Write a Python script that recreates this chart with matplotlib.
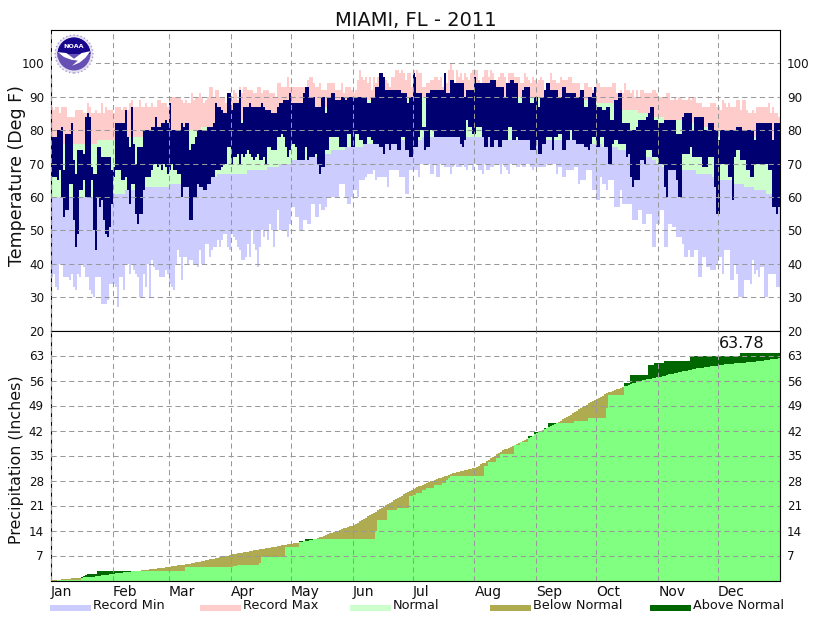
import numpy as np
import matplotlib
matplotlib.use('Agg')
import matplotlib.pyplot as plt
from matplotlib.patches import Circle, Wedge, Polygon, Rectangle

# daily values, one row per month
rec_max = [
    87,86,87,87,85,87,87,87,84,84,84,84,86,86,86,86,85,85,88,87,85,85,86,85,85,88,85,87,86,86,86,
    85,87,87,87,86,87,87,86,88,89,87,87,87,89,87,87,88,87,87,88,87,87,89,89,88,88,88,87,
    90,90,90,90,90,90,89,88,89,88,88,91,89,90,90,91,90,88,89,90,93,93,90,92,92,90,90,90,88,90,91,
    89,92,91,89,93,91,93,93,92,92,92,91,91,93,93,91,92,92,92,91,91,91,90,94,94,93,93,93,96,93,
    93,93,93,93,93,93,93,93,95,96,96,94,93,93,94,92,92,92,94,94,94,94,92,92,92,94,91,93,93,93,92,
    91,92,95,98,96,95,96,94,96,92,96,94,96,97,97,95,95,94,93,96,96,98,98,97,98,97,95,97,97,93,
    98,96,98,97,97,93,93,94,94,95,95,96,96,95,96,93,96,94,98,100,98,94,98,96,97,95,97,96,95,97,98,
    98,98,95,94,96,98,98,96,98,97,95,95,96,97,97,96,94,97,97,97,96,96,96,94,94,97,96,95,94,96,95,
    94,95,96,95,90,92,94,97,95,95,94,94,96,95,95,95,96,96,94,94,94,94,92,91,94,94,93,93,92,93,
    95,94,93,93,93,93,93,93,94,94,91,91,92,91,94,92,92,91,92,90,92,90,92,92,91,91,91,91,92,92,91,
    90,90,90,90,91,91,89,89,90,89,90,90,89,89,89,90,89,90,90,88,88,88,87,87,87,87,88,88,88,87,
    87,86,89,88,87,88,87,87,87,89,89,86,89,89,86,85,85,86,85,87,87,87,87,87,87,88,85,87,85,85,84,
]
rec_min = [
    36,37,33,32,40,40,36,36,36,35,37,33,32,37,36,40,39,36,36,32,31,30,36,36,36,28,28,28,29,34,34,
    34,33,27,36,36,32,40,40,37,40,38,37,36,30,30,37,33,40,30,41,39,38,38,36,36,36,38,37,
    34,33,32,40,44,42,35,42,42,40,41,41,40,40,39,44,40,40,46,46,42,44,45,45,47,45,47,49,49,45,44,
    49,48,47,45,44,41,41,42,46,42,50,46,44,39,45,50,48,50,47,52,50,45,50,56,50,50,50,50,48,52,
    57,57,54,54,50,50,53,53,52,52,58,58,54,54,58,56,56,57,60,60,60,60,60,60,64,64,64,60,58,58,60,
    62,62,60,65,65,65,66,67,67,67,68,65,66,66,66,66,66,63,68,68,68,68,68,66,66,66,61,61,68,68,
    68,68,68,66,70,70,70,70,70,67,67,70,66,66,70,70,69,69,69,67,69,70,69,69,69,70,69,68,70,70,68,
    70,70,68,68,67,70,68,68,69,69,70,70,70,67,70,69,68,67,70,70,70,69,69,70,69,69,70,70,69,68,69,
    69,69,69,69,69,70,70,70,70,70,67,69,69,66,66,68,68,68,68,69,69,64,65,65,65,68,68,68,62,62,
    59,59,66,64,64,62,65,65,65,57,57,57,62,58,58,58,58,58,53,53,53,56,56,52,52,55,55,55,45,45,52,
    52,56,56,45,45,52,52,51,51,48,48,48,46,42,42,44,42,42,44,44,36,36,42,42,39,39,38,38,38,40,
    42,42,37,44,44,44,35,35,40,37,30,30,30,35,35,35,34,41,37,38,36,39,39,30,30,37,37,37,37,33,33,
]
norm_hi = [
    76,76,76,76,76,76,76,76,76,76,76,76,76,76,76,76,76,76,76,76,76,76,76,77,77,77,77,77,77,77,77,
    77,77,77,77,77,77,77,78,78,78,78,78,78,78,78,78,78,78,78,78,79,79,79,79,79,79,79,79,
    79,79,79,79,79,80,80,80,80,80,80,80,80,80,80,80,81,81,81,81,81,81,81,81,81,81,82,82,82,82,82,
    82,82,82,82,82,83,83,83,83,83,83,83,83,83,84,84,84,84,84,84,84,84,85,85,85,85,85,85,85,85,
    85,85,85,86,86,86,86,86,86,86,86,86,87,87,87,87,87,87,87,87,87,87,88,88,88,88,88,88,88,88,88,
    88,88,88,88,89,89,89,89,89,89,89,89,89,89,89,89,89,89,89,89,89,89,90,90,90,90,90,90,90,90,
    90,90,90,90,90,90,90,90,90,90,90,90,90,90,90,90,90,90,90,90,90,90,90,90,90,90,90,90,90,90,90,
    90,90,90,90,90,90,90,90,90,90,90,90,90,90,90,90,90,90,90,90,90,90,90,90,90,90,90,90,90,90,90,
    90,90,90,90,90,90,90,90,90,90,90,90,90,89,89,89,89,89,89,89,89,89,89,89,89,89,89,89,88,88,
    88,88,88,88,88,88,88,88,88,87,87,87,87,86,86,86,86,86,86,86,86,85,85,85,85,85,85,85,85,84,84,
    84,84,84,83,83,83,83,83,83,83,83,83,82,82,82,82,82,82,82,81,81,81,81,81,81,81,81,80,80,80,
    80,80,80,80,80,79,79,79,79,79,79,79,78,78,78,78,78,78,78,78,78,78,78,77,77,77,77,77,77,77,77,
]
norm_lo = [
    60,60,60,60,60,60,60,60,60,60,60,60,60,60,60,60,60,60,60,60,60,60,60,60,60,60,60,60,60,60,60,
    61,61,61,61,61,61,62,62,62,62,62,62,62,62,62,63,63,63,63,63,63,63,63,63,63,63,63,63,
    64,64,64,64,64,64,64,64,64,64,65,65,65,65,65,66,66,66,66,66,66,66,66,66,67,67,67,67,67,67,67,
    67,67,67,67,67,67,67,67,68,68,68,68,68,68,68,68,68,68,69,69,69,69,69,69,70,70,70,70,70,70,
    71,71,71,71,71,71,71,71,72,72,72,72,72,72,72,72,73,73,73,73,74,74,74,74,74,74,74,75,75,75,75,
    75,75,75,75,75,76,76,76,76,76,76,76,76,76,76,76,76,76,76,76,76,76,77,77,77,77,77,77,77,77,
    77,77,77,77,77,78,78,78,78,78,78,78,78,78,78,78,78,78,78,78,78,78,78,78,78,78,78,78,78,78,78,
    78,78,78,78,78,78,78,78,78,78,78,78,78,78,78,77,77,77,77,77,77,77,77,77,77,77,77,77,77,77,77,
    77,77,77,77,77,77,77,77,77,77,77,77,77,77,77,77,77,77,77,77,77,76,76,76,76,76,76,76,76,76,
    76,76,76,75,75,75,75,75,75,75,75,74,74,74,74,74,74,74,74,74,74,74,73,73,73,72,72,72,71,71,70,
    70,70,69,69,69,69,69,69,69,69,69,68,68,68,68,68,68,68,68,67,67,67,67,67,67,67,67,66,66,66,
    65,65,65,65,65,65,65,64,64,64,64,64,64,63,63,63,63,63,62,62,62,62,62,62,61,61,61,61,61,61,61,
]
obs_hi = [
    78,78,78,80,80,81,68,79,79,79,82,71,67,74,74,74,73,84,85,84,69,67,67,75,75,72,72,72,72,72,68,
    66,82,82,82,82,82,86,78,75,87,76,70,75,75,75,80,80,80,80,81,81,84,81,81,82,82,83,82,
    88,80,80,80,80,80,82,81,82,82,74,76,76,78,80,80,80,80,80,81,81,81,82,88,87,87,86,85,85,91,91,
    86,88,88,88,92,82,87,87,87,88,87,87,87,87,87,88,87,86,86,86,85,85,85,87,88,88,89,89,89,91,
    88,88,88,88,88,88,91,93,93,90,90,90,87,87,87,90,90,85,90,90,91,91,89,89,89,90,90,89,90,90,90,
    90,90,90,90,90,90,90,88,88,90,90,93,93,97,97,96,92,92,92,92,92,92,92,92,91,91,91,88,90,90,
    97,96,91,91,91,81,81,91,91,92,92,92,92,92,92,92,97,91,91,95,95,94,94,94,94,94,90,92,92,92,92,
    96,94,94,94,94,94,94,94,95,95,95,93,93,93,93,90,94,94,95,95,94,94,88,88,92,93,93,93,88,88,90,
    90,87,90,90,92,94,94,92,92,92,92,90,90,93,93,91,91,91,91,91,90,90,92,92,87,87,90,90,91,93,
    87,87,87,86,86,87,87,83,83,89,89,91,91,82,82,82,82,80,80,80,81,83,83,83,83,84,85,87,87,83,83,
    82,82,82,83,83,83,83,83,83,79,79,79,84,85,85,85,85,80,84,84,84,84,84,80,80,82,82,82,80,80,
    77,80,80,80,80,80,80,80,80,81,81,81,80,80,80,80,80,80,77,82,82,82,82,82,82,82,82,77,82,82,82,
]
obs_lo = [
    66,66,66,65,68,60,54,56,56,64,64,53,45,49,62,62,65,60,60,60,65,50,44,60,57,59,53,49,48,51,58,
    69,68,68,68,65,65,66,62,58,64,64,55,52,55,55,62,66,66,66,68,70,70,69,70,68,70,69,67,
    68,70,68,68,67,67,60,63,63,63,53,53,60,60,64,63,63,62,62,64,64,66,66,68,68,68,69,70,70,75,75,
    70,72,72,73,70,73,72,73,74,73,72,71,72,73,71,71,72,70,75,75,74,74,74,78,78,79,78,75,72,74,
    76,76,75,71,71,71,71,75,71,72,72,72,73,70,67,69,69,74,74,78,78,78,78,78,75,75,75,75,79,79,75,
    75,79,79,77,77,76,76,78,78,77,76,76,76,75,75,73,76,76,74,76,76,76,74,74,78,78,74,74,72,72,
    75,75,75,78,80,80,74,75,75,80,80,78,78,78,78,78,78,78,78,78,78,78,78,78,76,75,77,83,81,81,79,
    79,81,81,81,78,75,75,78,75,75,77,77,75,75,77,77,77,81,81,77,77,78,77,77,77,77,77,77,74,74,74,
    77,73,73,76,76,78,78,78,74,78,78,79,79,74,74,77,77,80,77,77,76,76,76,76,75,75,74,76,78,78,
    75,75,78,78,75,75,70,70,76,77,77,76,76,76,76,72,73,66,63,65,65,65,71,71,70,74,74,74,72,72,72,
    70,70,70,63,60,68,68,68,68,65,60,60,73,73,73,73,75,72,72,72,72,72,69,69,69,72,72,72,63,55,
    55,70,70,70,70,66,66,59,72,74,74,71,71,71,68,68,66,66,70,70,70,70,70,70,70,68,68,57,57,55,57,
]
precip_normal = [
    0.05,0.1,0.15,0.2,0.26,0.32,0.38,0.44,0.5,0.55,0.6,0.65,0.7,0.75,0.8,0.82,0.85,0.9,0.95,1.0,1.05,1.1,1.18,1.26,1.34,1.42,1.5,1.58,1.66,1.74,1.82,
    1.9,1.97,2.04,2.11,2.18,2.25,2.32,2.4,2.47,2.54,2.61,2.68,2.74,2.8,2.87,2.94,3.01,3.08,3.15,3.22,3.29,3.36,3.43,3.5,3.57,3.64,3.71,3.8,
    3.9,3.98,4.06,4.14,4.22,4.3,4.38,4.46,4.55,4.64,4.73,4.84,4.95,5.06,5.18,5.3,5.42,5.54,5.66,5.78,5.9,6.02,6.14,6.26,6.38,6.5,6.62,6.74,6.86,7.0,7.15,
    7.3,7.4,7.5,7.6,7.7,7.8,7.9,8.0,8.1,8.2,8.3,8.4,8.5,8.6,8.7,8.8,8.9,9.0,9.1,9.2,9.3,9.4,9.5,9.6,9.7,9.8,9.9,10.0,10.1,10.2,
    10.3,10.4,10.5,10.6,10.8,10.9,11.0,11.1,11.2,11.3,11.4,11.5,11.7,11.9,12.1,12.3,12.5,12.7,12.9,13.2,13.4,13.6,13.8,14.0,14.2,14.4,14.6,14.8,15.0,15.2,15.4,
    15.6,15.9,16.2,16.6,17.0,17.3,17.6,18.0,18.3,18.7,19.0,19.3,19.7,20.0,20.4,20.7,21.1,21.4,21.8,22.1,22.5,22.8,23.2,23.5,23.8,24.1,24.4,24.7,25.0,25.4,
    25.7,25.9,26.1,26.4,26.6,26.8,27.1,27.3,27.6,27.8,28.0,28.2,28.4,28.6,28.8,29.0,29.2,29.4,29.6,29.8,30.0,30.1,30.3,30.4,30.6,30.7,30.9,31.0,31.2,31.3,31.5,
    31.6,31.9,32.2,32.5,32.8,33.0,33.4,33.8,34.2,34.6,35.0,35.3,35.7,36.1,36.5,36.7,36.9,37.1,37.3,37.6,37.9,38.2,38.5,38.8,39.1,39.4,39.7,40.0,40.3,40.6,41.0,
    41.3,41.6,41.9,42.1,42.4,42.7,43.0,43.3,43.6,43.9,44.2,44.5,44.8,45.1,45.5,45.8,46.1,46.4,46.8,47.2,47.6,47.9,48.2,48.6,48.9,49.2,49.6,50.0,50.3,50.6,
    50.9,51.2,51.5,51.8,52.1,52.4,52.7,52.9,53.1,53.3,53.5,53.7,53.9,54.1,54.4,54.6,54.8,55.0,55.2,55.4,55.6,55.8,56.0,56.1,56.2,56.3,56.4,56.5,56.6,56.8,56.9,
    57.0,57.1,57.3,57.4,57.5,57.7,57.8,57.9,58.1,58.2,58.3,58.4,58.6,58.7,58.8,58.9,59.0,59.1,59.2,59.4,59.5,59.5,59.6,59.7,59.8,59.9,60.0,60.1,60.2,60.2,
    60.3,60.4,60.4,60.5,60.6,60.6,60.7,60.7,60.8,60.8,60.9,60.9,61.0,61.0,61.1,61.1,61.2,61.3,61.3,61.4,61.5,61.5,61.6,61.7,61.8,61.8,61.9,62.0,62.0,62.1,62.2,
]
precip_actual = [
    0,0,0,0.02,0.02,0.02,0.05,0.05,0.05,0.05,0.08,0.08,0.1,0.1,0.1,0.9,1.2,1.6,1.9,1.9,1.9,1.9,1.9,2.7,2.7,2.7,2.7,2.7,2.7,2.7,2.7,
    2.7,2.7,2.7,2.7,2.7,2.7,2.7,2.7,2.7,2.7,2.7,2.7,2.7,2.8,2.8,2.8,2.8,2.8,2.8,2.8,2.8,2.8,2.8,2.8,2.8,2.8,2.8,2.8,
    2.8,2.8,2.8,2.8,2.8,2.8,2.8,2.8,3.65,3.65,3.65,3.65,3.65,3.65,3.65,3.65,3.65,3.65,3.65,3.65,3.65,3.65,3.65,3.65,3.65,3.65,3.65,3.65,3.65,3.65,3.65,
    3.9,4.1,4.1,4.4,4.4,4.4,4.4,4.4,4.4,4.4,4.4,4.4,4.4,4.4,5.0,6.5,6.5,6.5,6.5,6.5,6.5,6.5,6.5,6.5,6.5,6.5,6.5,9.4,9.4,9.4,
    9.5,9.5,9.5,9.5,11.0,11.0,11.0,11.5,11.5,11.5,11.5,11.5,11.5,11.5,11.5,11.5,11.5,11.5,11.5,11.5,11.5,11.5,11.5,11.5,11.5,11.5,11.5,11.5,11.5,11.5,11.5,
    11.5,11.5,11.5,11.5,11.5,11.5,11.5,11.5,11.5,11.5,11.5,14.0,16.9,16.9,16.9,16.9,16.9,19.7,19.7,19.7,19.7,19.7,20.2,20.2,20.2,20.2,20.2,20.2,23.6,23.6,
    23.9,23.9,24.5,24.5,24.5,25.3,25.3,25.9,25.9,25.9,25.9,26.7,26.7,26.7,26.7,27.2,27.2,28.2,28.6,29.3,29.3,29.3,29.3,29.3,29.3,29.3,29.3,29.3,29.3,29.3,29.3,
    29.3,29.3,29.3,29.3,29.3,32.0,32.0,33.2,33.2,33.2,33.2,34.2,34.2,35.5,35.5,35.5,35.5,35.5,35.5,35.5,37.9,37.9,37.9,38.8,38.8,38.8,38.8,40.5,40.5,40.5,41.6,
    41.6,41.6,41.6,41.6,42.8,42.8,44.0,44.0,44.0,44.0,44.0,44.0,44.0,44.0,44.0,44.0,44.0,44.0,44.0,44.7,44.7,44.7,44.7,44.7,44.7,44.7,45.5,45.5,45.5,45.5,
    45.5,45.5,45.5,45.5,45.5,48.4,51.9,51.9,51.9,51.9,51.9,51.9,51.9,51.9,55.4,55.4,55.4,57.5,57.5,57.5,57.5,57.5,57.5,57.5,57.5,57.5,60.3,60.3,60.3,61.0,61.0,
    61.0,61.0,61.0,61.4,61.4,61.4,61.4,61.4,61.4,61.4,61.4,61.4,61.4,61.4,61.4,61.4,62.8,62.8,62.8,62.8,62.8,62.8,62.8,62.8,62.8,62.8,62.8,62.8,62.8,62.8,
    62.8,62.8,62.8,62.8,62.8,62.8,62.8,62.8,62.8,62.8,62.8,63.78,63.78,63.78,63.78,63.78,63.78,63.78,63.78,63.78,63.78,63.78,63.78,63.78,63.78,63.78,63.78,63.78,63.78,63.78,63.78,
]
month_names = ['Jan', 'Feb', 'Mar', 'Apr', 'May', 'Jun', 'Jul', 'Aug', 'Sep', 'Oct', 'Nov', 'Dec']
month_days = [31, 28, 31, 30, 31, 30, 31, 31, 30, 31, 30, 31]
temp_ticks = [20, 30, 40, 50, 60, 70, 80, 90, 100]
precip_ticks = [7, 14, 21, 28, 35, 42, 49, 56, 63]
precip_total = '63.78'
legend_names = ['Record Min', 'Record Max', 'Normal', 'Below Normal', 'Above Normal']
legend_colors = ['#ccccff', '#ffcccc', '#ccffcc', '#afab50', '#006600']

W, H = 830, 620
L, R, T, MID, B = 51, 780, 30, 330.5, 580.5


def day_bars(ax, low, high, color):
    low = np.array(low, dtype=float)
    high = np.array(high, dtype=float)
    days = np.arange(len(low))
    ax.bar(days, high - low, bottom=low, width=1.0, align='edge', color=color, linewidth=0, antialiased=False)


def style_axis(ax):
    ax.set_xlim(0, 365)
    ax.set_xticks(np.cumsum([0] + month_days[:-1]))
    ax.grid(True, color='#999999', linestyle=(0, (5, 3.5)), linewidth=0.75)
    ax.set_axisbelow(False)
    ax.tick_params(length=0, labelright=True, labelsize=8.6, colors='#111111', pad=5)
    for s in ax.spines.values():
        s.set_linewidth(0.8)


def draw_logo(fig):
    # NOAA emblem, built from simple shapes, on its own white box
    ax = fig.add_axes([52 / W, 1 - 76 / H, 44 / W, 44 / H])
    ax.set_xlim(-1.16, 1.16)
    ax.set_ylim(-1.16, 1.16)
    ax.axis('off')
    ax.add_patch(Rectangle((-1.16, -1.16), 2.32, 2.32, fc='white', ec='none'))
    ax.add_patch(Circle((0, 0), 1.0, fc='#e6e2f2', ec='#a79cd0', lw=1, ls=':'))
    ax.add_patch(Circle((0, 0), 0.87, fc='#6650b4', ec='none'))
    ax.add_patch(Wedge((0, 0), 0.87, 0, 180, fc='#16078c', ec='none'))
    ax.add_patch(Polygon([(-0.87, 0.1), (-0.4, 0.05), (0, -0.25), (0.4, 0.05), (0.87, 0.15),
                          (0.6, -0.2), (0.3, -0.45), (-0.1, -0.62), (0.2, -0.35), (-0.15, -0.3),
                          (-0.55, -0.15)], fc='white', ec='none'))
    ax.add_patch(Polygon([(-0.87, 0.1), (-0.87, -0.2), (-0.55, -0.15)], fc='#6650b4', ec='none'))
    ax.text(0, 0.4, 'NOAA', color='white', fontsize=4.6, fontweight='bold', ha='center', va='center')


fig = plt.figure(figsize=(W / 100, H / 100), dpi=100)
ax_t = fig.add_axes([L / W, 1 - MID / H, (R - L) / W, (MID - T) / H])
ax_p = fig.add_axes([L / W, 1 - B / H, (R - L) / W, (B - MID) / H])

day_bars(ax_t, rec_min, norm_lo, '#ccccff')
day_bars(ax_t, norm_lo, norm_hi, '#ccffcc')
day_bars(ax_t, norm_hi, rec_max, '#ffcccc')
day_bars(ax_t, obs_lo, obs_hi, '#000070')
ax_t.set_ylim(20, 110)
ax_t.set_yticks(temp_ticks)
style_axis(ax_t)
ax_t.tick_params(labelbottom=False)
ax_t.set_title('MIAMI, FL - 2011', fontsize=14, color='#111111', pad=3)

normal = np.array(precip_normal)
actual = np.array(precip_actual)
day_bars(ax_p, np.zeros(365), np.minimum(normal, actual), '#80ff80')
day_bars(ax_p, actual, np.maximum(normal, actual), '#afab50')
day_bars(ax_p, normal, np.maximum(normal, actual), '#006600')
ax_p.set_ylim(0, 70)
ax_p.set_yticks(precip_ticks)
style_axis(ax_p)
ax_p.set_xticklabels(month_names, ha='left', fontsize=10)
ax_p.tick_params(axis='x', pad=3)
ax_p.text(719 / W, 1 - 344 / H, precip_total, transform=fig.transFigure, fontsize=11.5,
          color='#111111', ha='left', va='center')

fig.text(17 / W, 1 - 176 / H, 'Temperature (Deg F)', rotation=90, fontsize=12.5, color='#111111',
         ha='center', va='center')
fig.text(17 / W, 1 - 460 / H, 'Precipitation (Inches)', rotation=90, fontsize=11.4, color='#111111',
         ha='center', va='center')

legend_x = [50, 200, 350, 490, 650]
for x, name, color in zip(legend_x, legend_names, legend_colors):
    fig.add_artist(Rectangle((x / W, 1 - 611 / H), 41 / W, 6 / H, transform=fig.transFigure,
                             fc=color, ec='none'))
    fig.text((x + 43) / W, 1 - 605.5 / H, name, fontsize=9.3, color='#111111', ha='left', va='center')

draw_logo(fig)
fig.savefig('out.png', dpi=100)
